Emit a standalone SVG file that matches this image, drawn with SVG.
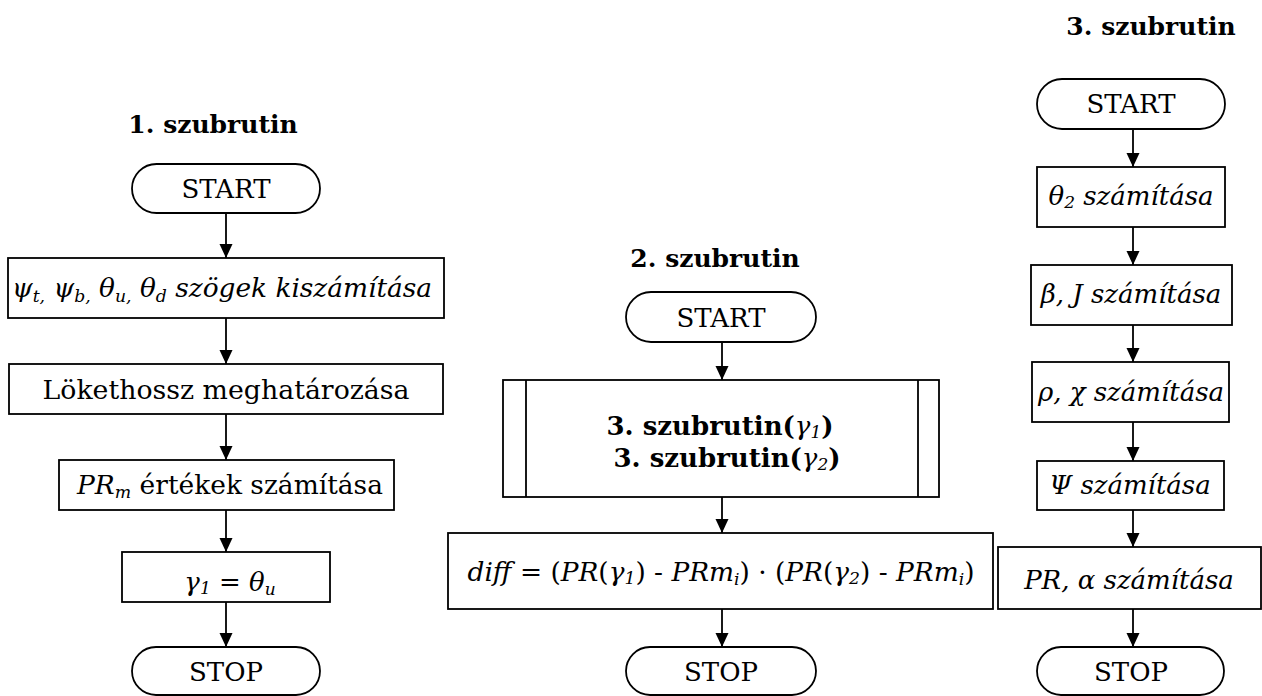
<svg xmlns="http://www.w3.org/2000/svg" width="1262" height="696" viewBox="0 0 1262 696">
  <defs>
    <marker id="arrow" markerUnits="userSpaceOnUse" markerWidth="15" markerHeight="14" refX="14" refY="6.5" orient="auto">
      <path d="M0,0 L14,6.5 L0,13 z" fill="#000"/>
    </marker>
    <style>
      .box { fill: #fff; stroke: #000; stroke-width: 1.8; }
      .edge { stroke: #000; stroke-width: 1.8; fill: none; marker-end: url(#arrow); }
      text { font-family: "DejaVu Serif", "Liberation Serif", serif; font-size: 26px; fill: #000; text-anchor: middle; }
      .title { font-weight: bold; font-size: 25px; }
      .it { font-style: italic; }
      .sub { font-size: 17px; }
    </style>
  </defs>
  <rect width="1262" height="696" fill="#fff"/>

  <!-- section titles -->
  <text class="title" x="213" y="133">1. szubrutin</text>
  <text class="title" x="715" y="267">2. szubrutin</text>
  <text class="title" x="1151" y="35">3. szubrutin</text>

  <!-- connectors -->
  <g id="connectors">
    <line class="edge" x1="226" y1="213" x2="226" y2="258"/>
    <line class="edge" x1="226" y1="318" x2="226" y2="364"/>
    <line class="edge" x1="226" y1="414" x2="226" y2="460"/>
    <line class="edge" x1="226" y1="510" x2="226" y2="552"/>
    <line class="edge" x1="226" y1="602" x2="226" y2="647"/>

    <line class="edge" x1="722" y1="342" x2="722" y2="380"/>
    <line class="edge" x1="722" y1="497" x2="722" y2="533"/>
    <line class="edge" x1="722" y1="609" x2="722" y2="647"/>

    <line class="edge" x1="1133" y1="129" x2="1133" y2="167"/>
    <line class="edge" x1="1133" y1="227" x2="1133" y2="265"/>
    <line class="edge" x1="1133" y1="325" x2="1133" y2="362"/>
    <line class="edge" x1="1133" y1="422" x2="1133" y2="461"/>
    <line class="edge" x1="1133" y1="510" x2="1133" y2="547"/>
    <line class="edge" x1="1133" y1="609" x2="1133" y2="647"/>
  </g>

  <!-- subroutine 1 -->
  <g id="s1-start">
    <rect class="box" x="132" y="164" width="188" height="49" rx="24.5"/>
    <text x="226" y="198">START</text>
  </g>
  <g id="s1-angles">
    <rect class="box" x="8" y="258" width="436" height="60"/>
    <text class="it" x="222" y="297" textLength="420" lengthAdjust="spacingAndGlyphs">ψ<tspan class="sub" dy="5">t,</tspan><tspan dy="-5"> ψ</tspan><tspan class="sub" dy="5">b,</tspan><tspan dy="-5"> θ</tspan><tspan class="sub" dy="5">u,</tspan><tspan dy="-5"> θ</tspan><tspan class="sub" dy="5">d</tspan><tspan dy="-5"> szögek kiszámítása</tspan></text>
  </g>
  <g id="s1-stroke">
    <rect class="box" x="9" y="364" width="434" height="50"/>
    <text x="226" y="399" textLength="367" lengthAdjust="spacingAndGlyphs">Lökethossz meghatározása</text>
  </g>
  <g id="s1-prm">
    <rect class="box" x="59" y="460" width="335" height="50"/>
    <text x="230" y="494" textLength="306" lengthAdjust="spacingAndGlyphs"><tspan class="it">PR</tspan><tspan class="it sub" dy="4">m</tspan><tspan dy="-4"> értékek számítása</tspan></text>
  </g>
  <g id="s1-gamma">
    <rect class="box" x="122" y="552" width="208" height="50"/>
    <text x="230" y="591"><tspan class="it">γ</tspan><tspan class="it sub" dy="3">1</tspan><tspan dy="-3"> = </tspan><tspan class="it">θ</tspan><tspan class="it sub" dy="4">u</tspan></text>
  </g>
  <g id="s1-stop">
    <rect class="box" x="132" y="647" width="188" height="48" rx="24"/>
    <text x="226" y="681">STOP</text>
  </g>

  <!-- subroutine 2 -->
  <g id="s2-start">
    <rect class="box" x="626" y="292" width="190" height="50" rx="25"/>
    <text x="721" y="327">START</text>
  </g>
  <g id="s2-call">
    <rect class="box" x="503" y="380" width="436" height="117"/>
    <line x1="526" y1="380" x2="526" y2="497" stroke="#000" stroke-width="1.8"/>
    <line x1="918" y1="380" x2="918" y2="497" stroke="#000" stroke-width="1.8"/>
    <text class="title" x="720" y="435" style="font-size:26px">3. szubrutin(<tspan class="it" font-weight="normal">γ</tspan><tspan class="it sub" font-weight="normal" dy="3">1</tspan><tspan dy="-3">)</tspan></text>
    <text class="title" x="727" y="467" style="font-size:26px">3. szubrutin(<tspan class="it" font-weight="normal">γ</tspan><tspan class="it sub" font-weight="normal" dy="3">2</tspan><tspan dy="-3">)</tspan></text>
  </g>
  <g id="s2-diff">
    <rect class="box" x="448" y="533" width="545" height="76"/>
    <text x="721" y="581" textLength="507" lengthAdjust="spacingAndGlyphs"><tspan class="it">diff</tspan> = (<tspan class="it">PR</tspan>(<tspan class="it">γ</tspan><tspan class="it sub" dy="3">1</tspan><tspan dy="-3">) - </tspan><tspan class="it">PRm</tspan><tspan class="it sub" dy="4">i</tspan><tspan dy="-4">) · (</tspan><tspan class="it">PR</tspan>(<tspan class="it">γ</tspan><tspan class="it sub" dy="3">2</tspan><tspan dy="-3">) - </tspan><tspan class="it">PRm</tspan><tspan class="it sub" dy="4">i</tspan><tspan dy="-4">)</tspan></text>
  </g>
  <g id="s2-stop">
    <rect class="box" x="626" y="647" width="190" height="48" rx="24"/>
    <text x="721" y="681">STOP</text>
  </g>

  <!-- subroutine 3 -->
  <g id="s3-start">
    <rect class="box" x="1037" y="79" width="188" height="50" rx="25"/>
    <text x="1131" y="113">START</text>
  </g>
  <g id="s3-theta">
    <rect class="box" x="1037" y="167" width="188" height="60"/>
    <text class="it" x="1131" y="205">θ<tspan class="sub" dy="3">2</tspan><tspan dy="-3"> számítása</tspan></text>
  </g>
  <g id="s3-beta">
    <rect class="box" x="1031" y="265" width="201" height="60"/>
    <text class="it" x="1131" y="303">β, J számítása</text>
  </g>
  <g id="s3-rho">
    <rect class="box" x="1032" y="362" width="197" height="60"/>
    <text class="it" x="1131" y="401">ρ, χ számítása</text>
  </g>
  <g id="s3-psi">
    <rect class="box" x="1037" y="461" width="187" height="49"/>
    <text class="it" x="1130" y="494">Ψ számítása</text>
  </g>
  <g id="s3-pr">
    <rect class="box" x="998" y="547" width="263" height="62"/>
    <text class="it" x="1129" y="589">PR, α számítása</text>
  </g>
  <g id="s3-stop">
    <rect class="box" x="1037" y="647" width="187" height="48" rx="24"/>
    <text x="1131" y="681">STOP</text>
  </g>
</svg>
